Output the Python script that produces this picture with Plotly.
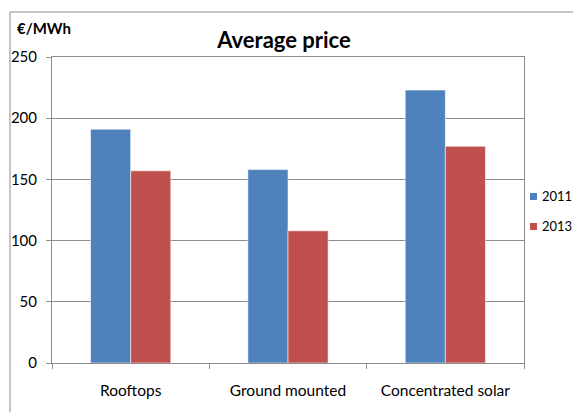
import plotly.graph_objects as go

# Average price by technology, €/MWh
categories = ["Rooftops", "Ground mounted", "Concentrated solar"]
price_2011 = [191, 158, 223]
price_2013 = [157, 108, 177]
series_names = ["2011", "2013"]
y_ticks = [0, 50, 100, 150, 200, 250]

BLUE = "#4F81BD"
RED = "#C0504D"
GRID = "#8C8C8C"
FONT = "Lato, Carlito, Calibri, 'Open Sans', sans-serif"
colors = [BLUE, RED]

fig = go.Figure()
for name, vals, col in zip(series_names, [price_2011, price_2013], colors):
    fig.add_trace(go.Bar(name=name, x=categories, y=vals, showlegend=False,
                         marker=dict(color=col, line=dict(color="rgba(255,255,255,0.55)", width=1))))

W, H = 573, 412
L, R, T, B = 52, 49, 57, 49
pw, ph = W - L - R, H - T - B


def px(x):
    return (x - L) / pw


def py(y):
    return (H - B - y) / ph


# compact legend at the right: small square swatch plus label
legend_shapes, legend_notes = [], []
for i, (name, col) in enumerate(zip(series_names, colors)):
    yc = 196 + 30 * i
    legend_shapes.append(dict(type="rect", xref="paper", yref="paper",
                              x0=px(530), x1=px(537), y0=py(yc + 4), y1=py(yc - 3),
                              fillcolor=col, line=dict(width=0)))
    legend_notes.append(dict(text=name, xref="paper", yref="paper", x=px(540), y=py(yc),
                             xanchor="left", yanchor="middle", showarrow=False,
                             font=dict(size=13, family=FONT)))

fig.update_layout(
    width=W, height=H,
    margin=dict(l=L, r=R, t=T, b=B, pad=0, autoexpand=False),
    paper_bgcolor="white", plot_bgcolor="white",
    barmode="group", bargap=0.49, bargroupgap=0,
    font=dict(family=FONT, size=15, color="black"),
    title=dict(text="<b>Average price</b>", x=px(284), xref="paper", xanchor="center",
               y=1 - 40 / H, yanchor="middle", font=dict(size=22, family=FONT)),
    showlegend=False,
    xaxis=dict(showline=True, linecolor=GRID, linewidth=1, mirror=True,
               ticks="outside", tickson="boundaries", ticklen=5, tickcolor=GRID,
               ticklabelstandoff=13, showgrid=False, tickfont=dict(size=15.5)),
    yaxis=dict(range=[0, 250], tickvals=y_ticks, showline=True, linecolor=GRID, linewidth=1,
               mirror=True, ticks="outside", ticklen=5, tickcolor=GRID, ticklabelstandoff=6,
               showgrid=True, gridcolor=GRID, gridwidth=1, zeroline=False,
               tickfont=dict(size=15)),
    annotations=[dict(text="<b>€/MWh</b>", xref="paper", yref="paper",
                      x=px(15), y=py(28), xanchor="left", yanchor="middle",
                      showarrow=False, font=dict(size=15, family=FONT))] + legend_notes,
    shapes=[dict(type="rect", xref="paper", yref="paper",
                 x0=px(10), x1=2, y0=-1, y1=py(12),
                 line=dict(color=GRID, width=1), fillcolor="rgba(0,0,0,0)", layer="below")]
           + legend_shapes,
)

fig.write_html("out.html")
